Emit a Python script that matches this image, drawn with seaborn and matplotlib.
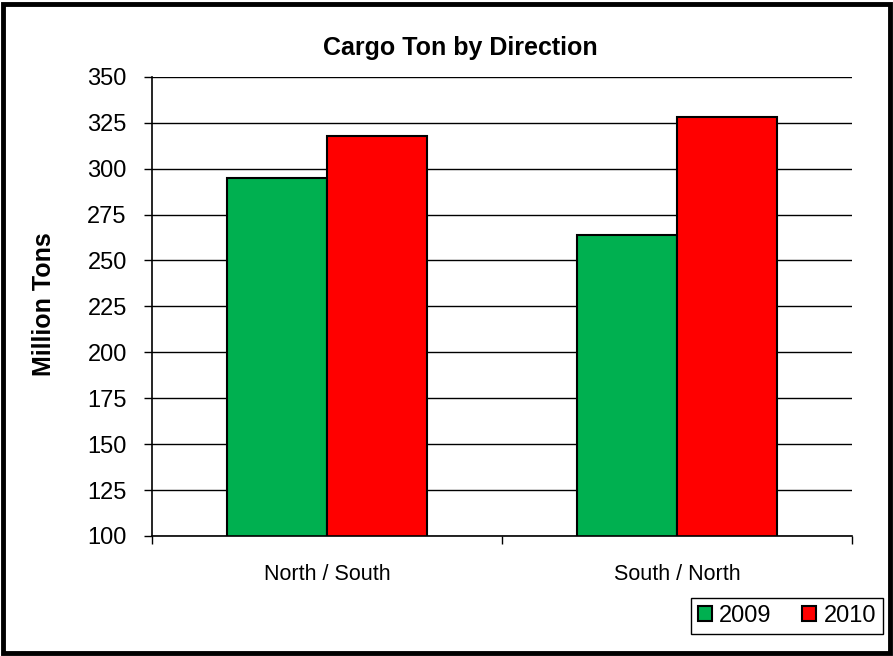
import numpy as np
import pandas as pd
import matplotlib
matplotlib.use("Agg")
import matplotlib.pyplot as plt
import seaborn as sns
from matplotlib.patches import Rectangle

# data
directions = ["North / South", "South / North"]
years = ["2009", "2010"]
tons_2009 = [295, 264]
tons_2010 = [318, 328]
y_ticks = list(range(100, 351, 25))

df = pd.DataFrame({
    "Direction": directions * 2,
    "Year": [years[0]] * 2 + [years[1]] * 2,
    "Tons": tons_2009 + tons_2010,
})

sns.set_theme(style="white")
plt.rcParams["font.family"] = ["Liberation Sans", "DejaVu Sans"]
plt.rcParams.update({
    "text.color": "black",
    "axes.labelcolor": "black",
    "xtick.color": "black",
    "ytick.color": "black",
})

fig = plt.figure(figsize=(8.93, 6.56), dpi=100)
ax = fig.add_axes([0.170, 0.183, 0.784, 0.700])

sns.barplot(
    data=df, x="Direction", y="Tons", hue="Year",
    palette={"2009": "#00B050", "2010": "#FF0000"},
    width=4 / 7, edgecolor="black", linewidth=1.5,
    saturation=1, ax=ax, legend=True,
)

ax.set_ylim(100, 350)
ax.set_xlim(-0.5, 1.5)
ax.set_yticks(y_ticks)
ax.yaxis.grid(True, color="black", linewidth=1)
ax.set_axisbelow(True)
ax.tick_params(axis="y", which="major", left=True, length=6, width=1,
               color="black", labelsize=17, pad=12)
ax.tick_params(axis="x", which="major", bottom=False, length=0,
               labelsize=15.5, pad=20)
ax.set_xticks([-0.5, 0.5, 1.5], minor=True)
ax.tick_params(axis="x", which="minor", bottom=True, length=6, width=1, color="black")

for side in ["top", "right"]:
    ax.spines[side].set_visible(False)
for side in ["left", "bottom"]:
    ax.spines[side].set_color("black")
    ax.spines[side].set_linewidth(1.2)

ax.set_xlabel("")
ax.set_ylabel("")
fig.text(44 / 893, 1 - 304 / 656, "Million Tons", rotation=90, fontsize=18,
         fontweight="bold", ha="center", va="center")
fig.text(460 / 893, 1 - 48 / 656, "Cargo Ton by Direction", fontsize=18,
         fontweight="bold", ha="center", va="center")

handles, labels = ax.get_legend_handles_labels()
ax.legend(
    handles, labels, ncol=2, loc="lower right",
    bbox_to_anchor=(883 / 893, 22 / 656), bbox_transform=fig.transFigure,
    fontsize=17, frameon=True, fancybox=False, edgecolor="black",
    framealpha=1, handlelength=0.6, handleheight=0.6, handletextpad=0.3,
    columnspacing=1.3, borderpad=0.2, borderaxespad=0,
)
leg = ax.get_legend()
leg.get_frame().set_linewidth(1)
leg._legend_box.pad = 5

# chart border
fig.patches.append(Rectangle((0.003, 0.004), 0.994, 0.99, transform=fig.transFigure,
                             fill=False, edgecolor="black", linewidth=3.5))

fig.savefig("out.png", dpi=100)
plt.close(fig)
